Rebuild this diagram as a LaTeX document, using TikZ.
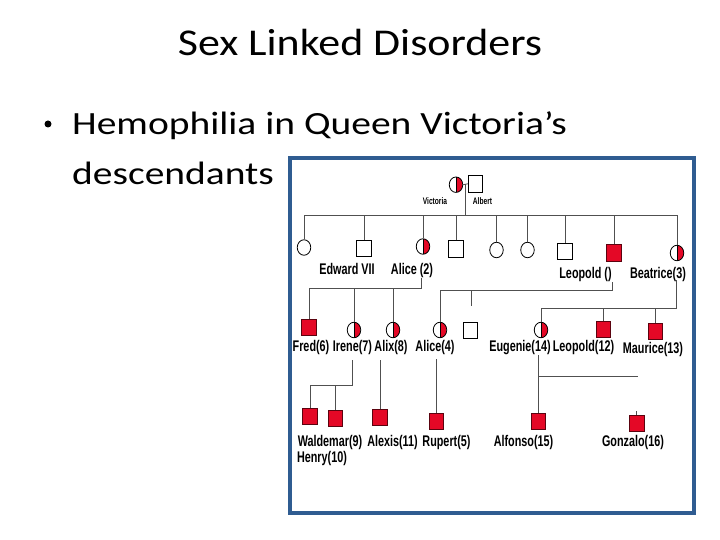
\documentclass[tikz,border=0pt]{standalone}
\usepackage{fontspec}
\usepackage{graphicx}
\usetikzlibrary{shapes.geometric}
\newfontfamily\slidefont{Carlito}
\newfontfamily\labfont{Liberation Sans}
\definecolor{hemo}{RGB}{228,8,38}
\definecolor{frameblue}{RGB}{47,92,145}
\definecolor{linegray}{RGB}{80,80,80}
\newcommand{\pl}[1]{\scalebox{0.7}[1]{#1}}
\begin{document}
\begin{tikzpicture}[x=1bp,y=-1bp,
 fem/.style={ellipse,draw=black,line width=0.8bp,fill=white,inner sep=0pt,minimum width=13.5bp,minimum height=15.5bp},
 carrier/.style={fem,path picture={\fill[hemo] (path picture bounding box.north) rectangle (path picture bounding box.south east);
   \draw[black,line width=0.6bp] (path picture bounding box.north) -- (path picture bounding box.south);}},
 male/.style={rectangle,draw=black,line width=0.8bp,fill=white,inner sep=0pt,minimum width=14.5bp,minimum height=16.5bp},
 affected/.style={male,fill=hemo,draw=black!60!hemo},
 lab/.style={inner sep=0pt,anchor=base,font=\labfont\bfseries\fontsize{15.5}{16}\selectfont},
 smalllab/.style={lab,font=\labfont\bfseries\fontsize{9.5}{10}\selectfont},
 link/.style={draw=linegray,line width=0.8bp}]
\fill[white] (0,0) rectangle (720,540);
\useasboundingbox (0,0) rectangle (720,540);

% slide text
\node[anchor=base,inner sep=0pt,font=\slidefont\fontsize{38}{40}\selectfont] (title) at (360,56) {\scalebox{1.16}[1]{Sex Linked Disorders}};
\node[circle,fill=black,inner sep=0pt,minimum size=7bp] (dot) at (48,124) {};
\node[anchor=base west,inner sep=0pt,font=\slidefont\fontsize{32.5}{34}\selectfont] (b1) at (72,135) {\scalebox{1.22}[1]{Hemophilia in Queen Victoria’s}};
\node[anchor=base west,inner sep=0pt,font=\slidefont\fontsize{32.5}{34}\selectfont] (b2) at (72,185) {\scalebox{1.22}[1]{descendants}};

% frame
\draw[frameblue,line width=4bp] (290.3,158.3) rectangle (693.9,513.2);

% generation 1
\node[carrier] (vic) at (456,184.7) {};
\node[male] (alb) at (475.5,183.8) {};
\draw[link] (vic.east) -- (alb.west);
\node[smalllab] (vicl) at (435,205) {\pl{Victoria}};
\node[smalllab] (albl) at (482.5,205) {\pl{Albert}};
\coordinate (m0) at (465,184.3);
\coordinate (s0) at (465,215.5);
\coordinate (sibL) at (304,215.5);
\coordinate (sibR) at (677,215.5);
\draw[link] (m0) -- (s0);
\draw[link] (sibL) -- (sibR);

% generation 2
\node[fem] (g2a) at (304,247.5) {};
\node[male] (edw) at (364,248.5) {};
\node[carrier] (ali) at (423,246.5) {};
\node[male] (g2d) at (456,249) {};
\node[fem] (g2e) at (496.5,250) {};
\node[fem] (g2f) at (527.5,250) {};
\node[male] (g2g) at (565,251.5) {};
\node[affected] (leo) at (614,253) {};
\node[carrier] (bea) at (677,253) {};
\foreach \n in {g2a,edw,ali,g2d,g2e,g2f,g2g,leo,bea}
  \draw[link] (\n.north) -- (\n.north |- sibL);
\node[lab] (edwl) at (347,274.3) {\pl{Edward VII}};
\node[lab] (alil) at (412,274.5) {\pl{Alice (2)}};
\node[lab] (leol) at (585.5,279) {\pl{Leopold ()}};
\node[lab] (beal) at (658,279) {\pl{Beatrice(3)}};

% generation 3
\node[affected] (fred) at (309,327.5) {};
\node[carrier] (ire) at (354,330) {};
\node[carrier] (alx) at (393,330) {};
\node[carrier] (al4) at (440,330) {};
\node[male] (g3sq) at (470.5,330.5) {};
\node[carrier] (eug) at (541,330) {};
\node[affected] (leo12) at (603.5,329.5) {};
\node[affected] (mau) at (655.5,331.5) {};

\coordinate (aliJ) at (421,277.5);
\coordinate (aliB) at (421,288);
\draw[link] (aliJ) -- (aliB) -| (fred.north);
\draw[link] (ire.north) -- (ire.north |- aliB);
\draw[link] (alx.north) -- (alx.north |- aliB);

\coordinate (leoJ) at (612,282);
\coordinate (leoB) at (612,290);
\draw[link] (leoJ) -- (leoB) -| (al4.north);
\coordinate (stubT) at (471,290);
\coordinate (stubB) at (471,306);
\draw[link] (stubT) -- (stubB);

\coordinate (beaJ) at (676,280);
\coordinate (beaB) at (676,308);
\draw[link] (beaJ) -- (beaB) -| (eug.north);
\draw[link] (leo12.north) -- (leo12.north |- beaB);
\draw[link] (mau.north) -- (mau.north |- beaB);

\node[lab] (fredl) at (311,351.5) {\pl{Fred(6)}};
\node[lab] (irel) at (352.5,351.5) {\pl{Irene(7)}};
\node[lab] (alxl) at (391,351.5) {\pl{Alix(8)}};
\node[lab] (al4l) at (435,351.5) {\pl{Alice(4)}};
\node[lab] (eugl) at (520,351) {\pl{Eugenie(14)}};
\node[lab] (leo12l) at (583.5,351) {\pl{Leopold(12)}};
\node[lab] (maul) at (653,353) {\pl{Maurice(13)}};

% generation 4
\node[affected] (wal) at (310,416.5) {};
\node[affected] (hen) at (335.5,418.5) {};
\node[affected] (alexis) at (380,417.5) {};
\node[affected] (rup) at (436.3,421.5) {};
\node[affected] (alf) at (538.5,421.5) {};
\node[affected] (gon) at (636.7,423.5) {};

\coordinate (ireJ) at (352.5,360);
\coordinate (ireB) at (352.5,385.5);
\draw[link] (ireJ) -- (ireB) -| (wal.north);
\draw[link] (hen.north) -- (hen.north |- ireB);
\coordinate (alxJ) at (380,360);
\draw[link] (alxJ) -- (alexis.north);
\coordinate (al4J) at (436.3,359);
\draw[link] (al4J) -- (rup.north);
\coordinate (eugJ) at (538.5,355);
\draw[link] (eugJ) -- (alf.north);
\coordinate (eugK) at (538.5,376);
\coordinate (eugR) at (638,376);
\draw[link] (eugK) -- (eugR);
\coordinate (gonS) at (636.7,411);
\draw[link] (gonS) -- (gon.north);

\node[lab] (wall) at (330,446.5) {\pl{Waldemar(9)}};
\node[lab] (henl) at (322,462) {\pl{Henry(10)}};
\node[lab] (alexisl) at (392.5,446.5) {\pl{Alexis(11)}};
\node[lab] (rupl) at (446.5,446.5) {\pl{Rupert(5)}};
\node[lab] (alfl) at (523.5,446.5) {\pl{Alfonso(15)}};
\node[lab] (gonl) at (633,446) {\pl{Gonzalo(16)}};
\end{tikzpicture}
\end{document}
